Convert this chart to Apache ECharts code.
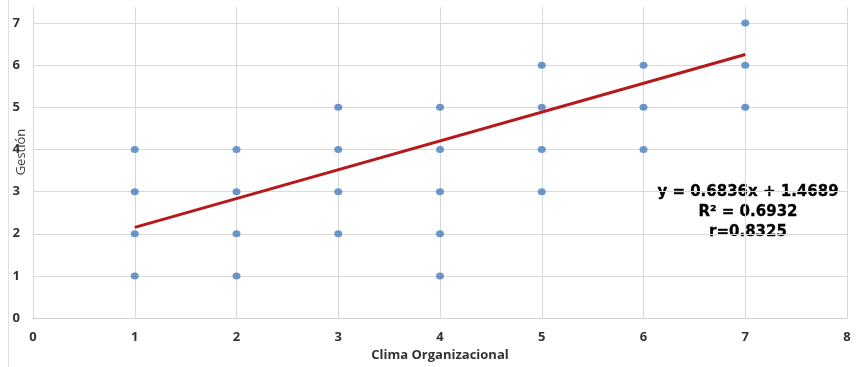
<!DOCTYPE html>
<html>
<head>
<meta charset="utf-8">
<script src="https://cdn.jsdelivr.net/npm/echarts@6/dist/echarts.min.js"></script>
<style>html,body{margin:0;padding:0;background:#fff}#c{width:863px;height:367px}</style>
</head>
<body>
<div id="c"></div>
<script>
// Data
var climaX = [1,1,1,1, 2,2,2,2, 3,3,3,3, 4,4,4,4,4, 5,5,5,5, 6,6,6, 7,7,7];
var gestionY = [1,2,3,4, 1,2,3,4, 2,3,4,5, 1,2,3,4,5, 3,4,5,6, 4,5,6, 5,6,7];
var trendX = [1, 7];
var trendY = [2.1525, 6.2541];
var equationLines = ['y = 0.6836x + 1.4689', 'R\u00B2 = 0.6932', 'r=0.8325'];
var xTicks = [0,1,2,3,4,5,6,7,8];
var yTicks = [0,1,2,3,4,5,6,7];

var points = climaX.map(function(x, i){ return [x, gestionY[i]]; });
var trend = trendX.map(function(x, i){ return [x, trendY[i]]; });

var chart = echarts.init(document.getElementById('c'), null, {renderer:'canvas'});
var labelStyle = {color:'#333', fontWeight:'bold', fontSize:13, fontFamily:'Open Sans'};
var ySplitColors = yTicks.map(function(){return '#d9d9d9';}).concat(['rgba(0,0,0,0)']);
chart.setOption({
  animation:false,
  backgroundColor:'#fff',
  grid:{left:33, right:16, top:7, bottom:43, containLabel:false},
  xAxis:{
    type:'value', min:xTicks[0], max:xTicks[xTicks.length-1], interval:1,
    name:'Clima Organizacional', nameLocation:'middle', nameGap:27,
    nameTextStyle:{color:'#333', fontWeight:'bold', fontSize:13, fontFamily:'Open Sans'},
    axisLine:{show:true, lineStyle:{color:'#d0d0d0', width:1}},
    axisTick:{show:false},
    axisLabel:Object.assign({margin:13}, labelStyle),
    splitLine:{show:true, lineStyle:{color:'#d9d9d9', width:1}}
  },
  yAxis:{
    type:'value', min:0, max:7.38, interval:1,
    axisLine:{show:true, lineStyle:{color:'#d9d9d9', width:1}},
    axisTick:{show:false},
    axisLabel:Object.assign({margin:13, formatter:function(v){ return Number.isInteger(v) ? String(v) : ''; }}, labelStyle),
    splitLine:{show:true, lineStyle:{color:ySplitColors, width:1}}
  },
  graphic:[
    {type:'line', shape:{x1:8.5, y1:0, x2:8.5, y2:367}, style:{stroke:'#e0e0e0', lineWidth:1}},
    {type:'text', rotation:Math.PI/2, x:21, y:152, style:{text:'Gesti\u00F3n', fill:'#404040', font:'13px "Open Sans"', textAlign:'center', textVerticalAlign:'middle'}},
    {type:'text', x:748, y:182, style:{text:equationLines.join('\n'), fill:'#000', stroke:'#000', lineWidth:0.3, font:'bold 15px "DejaVu Sans"', textAlign:'center', lineHeight:20}}
  ],
  series:[
    {type:'scatter', data:points, symbol:'circle', symbolSize:[8,7], itemStyle:{color:'#4a7ebb'}, z:3},
    {type:'line', data:trend, symbol:'none', lineStyle:{color:'#b5191c', width:3}, z:4}
  ]
});
</script>
</body>
</html>
